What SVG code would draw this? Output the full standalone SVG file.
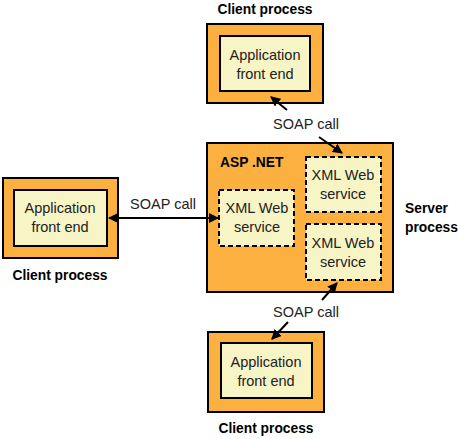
<svg xmlns="http://www.w3.org/2000/svg" width="458" height="439" viewBox="0 0 458 439">
<defs>
<style>
.outer{fill:#FBB040;stroke:#000;stroke-width:2}
.inner{fill:#F7F4C6;stroke:#000;stroke-width:2}
.dash{fill:#F7F4C6;stroke:#000;stroke-width:2;stroke-dasharray:5 3}
.t{font-family:"Liberation Sans",Arial,sans-serif;font-size:14.5px;fill:#222;text-anchor:middle}
.b{font-family:"Liberation Sans",Arial,sans-serif;font-size:13.8px;font-weight:bold;fill:#000}
.c{stroke:#000;stroke-width:2;fill:none}
</style>
<marker id="ah" viewBox="0 0 10 10" refX="9" refY="5" markerWidth="5" markerHeight="5" orient="auto-start-reverse" markerUnits="strokeWidth">
<path d="M0,0 L10,5 L0,10 Z" fill="#000"/>
</marker>
</defs>
<rect width="458" height="439" fill="#fff"/>

<g id="client-top">
<text class="b" x="265" y="14" text-anchor="middle">Client process</text>
<rect class="outer" x="207" y="24" width="116" height="79"/>
<rect class="inner" x="220" y="36" width="90" height="55"/>
<text class="t" x="265" y="60">Application</text>
<text class="t" x="265" y="79">front end</text>
</g>

<g id="client-left">
<rect class="outer" x="3" y="178" width="115" height="80"/>
<rect class="inner" x="14" y="190" width="93" height="56"/>
<text class="t" x="60" y="213">Application</text>
<text class="t" x="60" y="232">front end</text>
<text class="b" x="60" y="280" text-anchor="middle">Client process</text>
</g>

<g id="client-bottom">
<rect class="outer" x="208" y="332" width="116" height="80"/>
<rect class="inner" x="221" y="343" width="91" height="55"/>
<text class="t" x="266" y="367">Application</text>
<text class="t" x="266" y="386">front end</text>
<text class="b" x="266" y="433" text-anchor="middle">Client process</text>
</g>

<g id="server">
<rect class="outer" x="207" y="143" width="186" height="149"/>
<text class="b" x="220" y="167">ASP .NET</text>
<text class="b" x="405" y="213">Server</text>
<text class="b" x="405" y="232">process</text>
</g>

<g id="ws-left">
<rect class="dash" x="219" y="190" width="75" height="56"/>
<text class="t" x="257" y="213">XML Web</text>
<text class="t" x="257" y="232">service</text>
</g>

<g id="ws-top">
<rect class="dash" x="306" y="157" width="75" height="55"/>
<text class="t" x="343" y="180">XML Web</text>
<text class="t" x="343" y="199">service</text>
</g>

<g id="ws-bottom">
<rect class="dash" x="306" y="224" width="75" height="56"/>
<text class="t" x="343" y="248">XML Web</text>
<text class="t" x="343" y="267">service</text>
</g>

<g id="connectors">
<line class="c" x1="287" y1="110" x2="271" y2="97" marker-end="url(#ah)"/>
<text class="t" x="306" y="129">SOAP call</text>
<line class="c" x1="319" y1="137" x2="342" y2="153" marker-end="url(#ah)"/>

<line class="c" x1="109" y1="218" x2="218" y2="218" marker-start="url(#ah)" marker-end="url(#ah)"/>
<text class="t" x="163" y="209">SOAP call</text>

<line class="c" x1="322" y1="300" x2="337" y2="283" marker-end="url(#ah)"/>
<text class="t" x="306" y="317">SOAP call</text>
<line class="c" x1="288" y1="322" x2="272" y2="339" marker-end="url(#ah)"/>
</g>
</svg>
